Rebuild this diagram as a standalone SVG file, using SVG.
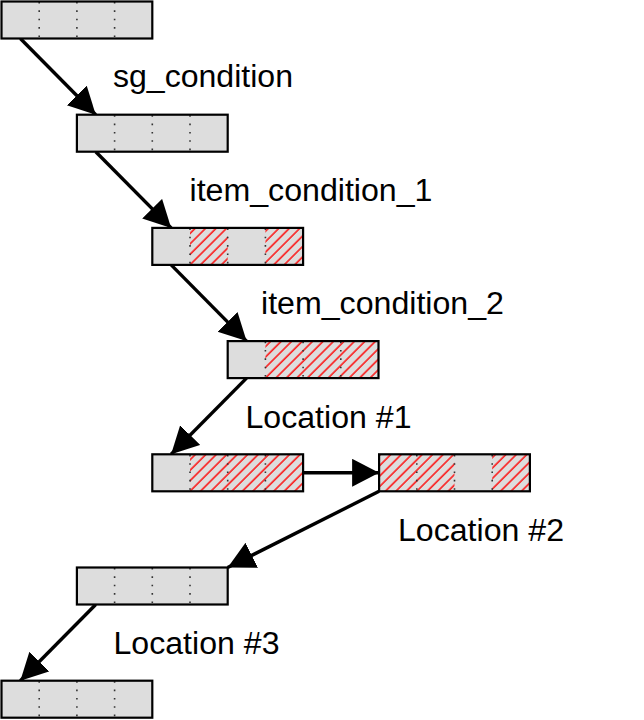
<svg xmlns="http://www.w3.org/2000/svg" width="644" height="720" viewBox="0 0 644 720">
<style>
.bg{fill:#dddddd;stroke:none}
.hx{fill:url(#hatch);stroke:none}
.dv{stroke:#333333;stroke-width:1.6;stroke-dasharray:1.6 6.75;fill:none}
.bd{fill:none;stroke:#000000;stroke-width:2.2}
.cn{stroke:#000000;stroke-width:3.4;fill:none;marker-end:url(#ah)}
.lb{font-family:"Liberation Sans",Arial,sans-serif;font-size:31px;fill:#000000}
</style>
<defs>
<pattern id="hatch" width="7.4" height="7.4" patternUnits="userSpaceOnUse" patternTransform="rotate(45)">
<line x1="1" y1="0" x2="1" y2="7.4" stroke="#ff0000" stroke-width="1.4"/>
</pattern>
<marker id="ah" markerUnits="userSpaceOnUse" markerWidth="30" markerHeight="30" refX="27" refY="14" orient="auto" viewBox="0 0 30 30">
<path d="M0,0 L27,14 L0,28 z" fill="#000000"/>
</marker>
<g id="dividers">
<line class="dv" x1="37.7" y1="0.5" x2="37.7" y2="37"/>
<line class="dv" x1="75.4" y1="0.5" x2="75.4" y2="37"/>
<line class="dv" x1="113.1" y1="0.5" x2="113.1" y2="37"/>
</g>
</defs>

<g id="connectors">
<line class="cn" x1="20.35" y1="38.5" x2="95.75" y2="114.7"/>
<line class="cn" x1="95.75" y1="151.7" x2="171.15" y2="227.9"/>
<line class="cn" x1="171.15" y1="264.9" x2="246.55" y2="341.1"/>
<line class="cn" x1="246.55" y1="378.1" x2="171.15" y2="454.3"/>
<line class="cn" x1="303.1" y1="472.8" x2="379.1" y2="472.8"/>
<line class="cn" x1="379.1" y1="491.3" x2="227.7" y2="567.5"/>
<line class="cn" x1="95.75" y1="604.5" x2="20.35" y2="680.7"/>
</g>

<g id="box1" transform="translate(1.5,1.5)">
<rect class="bg" width="150.8" height="37"/>
<use href="#dividers"/>
<rect class="bd" width="150.8" height="37"/>
</g>

<g id="box2" transform="translate(76.9,114.7)">
<rect class="bg" width="150.8" height="37"/>
<use href="#dividers"/>
<rect class="bd" width="150.8" height="37"/>
</g>

<g id="box3" transform="translate(152.3,227.9)">
<rect class="bg" width="150.8" height="37"/>
<rect class="hx" x="37.7" width="37.7" height="37"/>
<rect class="hx" x="113.1" width="37.7" height="37"/>
<use href="#dividers"/>
<rect class="bd" width="150.8" height="37"/>
</g>

<g id="box4" transform="translate(227.7,341.1)">
<rect class="bg" width="150.8" height="37"/>
<rect class="hx" x="37.7" width="113.1" height="37"/>
<use href="#dividers"/>
<rect class="bd" width="150.8" height="37"/>
</g>

<g id="box5" transform="translate(152.3,454.3)">
<rect class="bg" width="150.8" height="37"/>
<rect class="hx" x="37.7" width="113.1" height="37"/>
<use href="#dividers"/>
<rect class="bd" width="150.8" height="37"/>
</g>

<g id="box6" transform="translate(379.1,454.3)">
<rect class="bg" width="150.8" height="37"/>
<rect class="hx" x="0" width="75.4" height="37"/>
<rect class="hx" x="113.1" width="37.7" height="37"/>
<use href="#dividers"/>
<rect class="bd" width="150.8" height="37"/>
</g>

<g id="box7" transform="translate(76.9,567.5)">
<rect class="bg" width="150.8" height="37"/>
<use href="#dividers"/>
<rect class="bd" width="150.8" height="37"/>
</g>

<g id="box8" transform="translate(1.5,680.7)">
<rect class="bg" width="150.8" height="37"/>
<use href="#dividers"/>
<rect class="bd" width="150.8" height="37"/>
</g>

<g id="labels">
<text class="lb" x="113" y="87" textLength="180" lengthAdjust="spacingAndGlyphs">sg_condition</text>
<text class="lb" x="189.5" y="201" textLength="243" lengthAdjust="spacingAndGlyphs">item_condition_1</text>
<text class="lb" x="261" y="314" textLength="243" lengthAdjust="spacingAndGlyphs">item_condition_2</text>
<text class="lb" x="245.5" y="427.5" textLength="166" lengthAdjust="spacingAndGlyphs">Location #1</text>
<text class="lb" x="398" y="540.5" textLength="166" lengthAdjust="spacingAndGlyphs">Location #2</text>
<text class="lb" x="113.5" y="654" textLength="166" lengthAdjust="spacingAndGlyphs">Location #3</text>
</g>
</svg>
